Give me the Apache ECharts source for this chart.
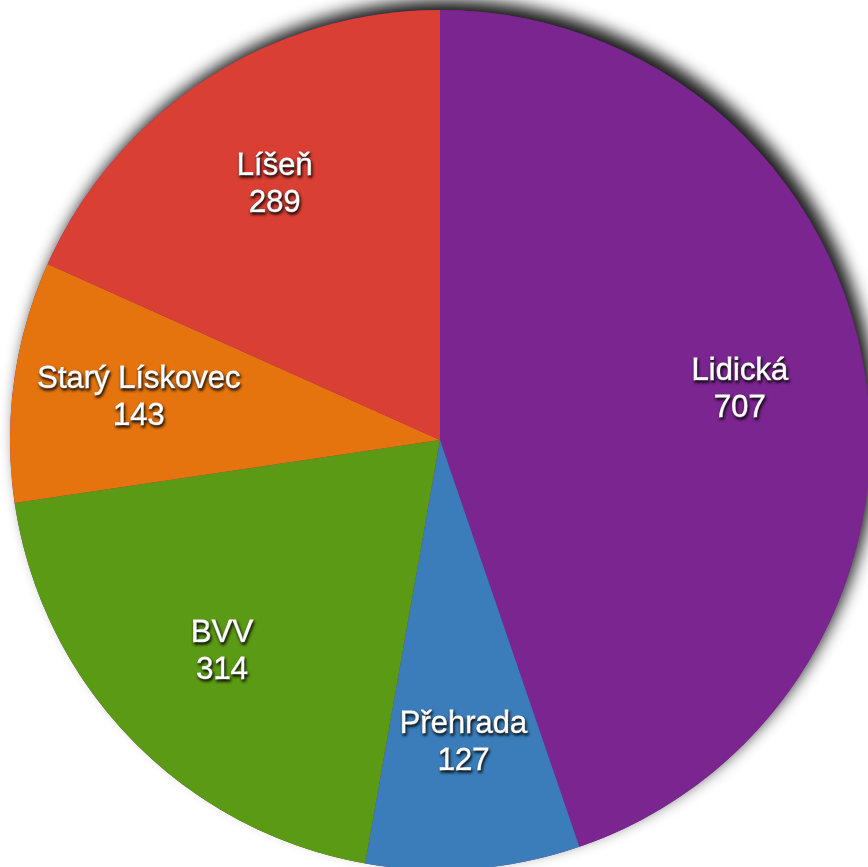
<!DOCTYPE html>
<html>
<head>
<meta charset="utf-8">
<script src="https://cdn.jsdelivr.net/npm/echarts@6/dist/echarts.min.js"></script>
<style>
html, body { margin: 0; padding: 0; background: #fff; }
#main { width: 868px; height: 867px; }
</style>
</head>
<body>
<div id="main"></div>
<script>
// data
var categories = ['Lidická', 'Přehrada', 'BVV', 'Starý Lískovec', 'Líšeň'];
var values = [707, 127, 314, 143, 289];
var colors = ['#7b2590', '#3a7dba', '#5b9a14', '#e5740e', '#d93f33'];

var total = values.reduce(function (a, b) { return a + b; }, 0);
var pieData = categories.map(function (c, i) {
	return { name: c, value: values[i], itemStyle: { color: colors[i] } };
});

echarts.init(document.getElementById('main')).setOption({
	animation: false,
	series: [{
			// shadow under the whole pie
			type: 'pie',
			silent: true,
			center: [440, 440],
			radius: 430,
			z: 1,
			label: { show: false },
			itemStyle: {
				color: '#7b2590',
				shadowBlur: 16,
				shadowOffsetX: 7,
				shadowOffsetY: -10,
				shadowColor: 'rgba(0,0,0,0.9)'
			},
			data: [total]
		},
		{
			type: 'pie',
			center: [440, 440],
			radius: 430,
			startAngle: 90,
			clockwise: true,
			z: 2,
			label: { show: false },
			labelLine: { show: false },
			itemStyle: { borderWidth: 0 },
			data: pieData
		},
		{
			// transparent ring, only carries labels at ~70% of the radius
			type: 'pie',
			silent: true,
			center: [440, 440],
			radius: [172, 430],
			startAngle: 90,
			clockwise: true,
			z: 3,
			itemStyle: { color: 'rgba(0,0,0,0)', borderWidth: 0 },
			label: {
				show: true,
				position: 'inside',
				formatter: '{b}\n{c}',
				color: '#fff',
				fontFamily: 'Liberation Sans',
				fontSize: 31,
				lineHeight: 37,
				textBorderColor: '#fff',
				textBorderWidth: 0.8,
				textShadowColor: 'rgba(0,0,0,0.9)',
				textShadowBlur: 3,
				textShadowOffsetX: 1,
				textShadowOffsetY: 2
			},
			labelLine: { show: false },
			data: categories.map(function (c, i) {
				return { name: c, value: values[i] };
			})
		}
	]
});
</script>
</body>
</html>
